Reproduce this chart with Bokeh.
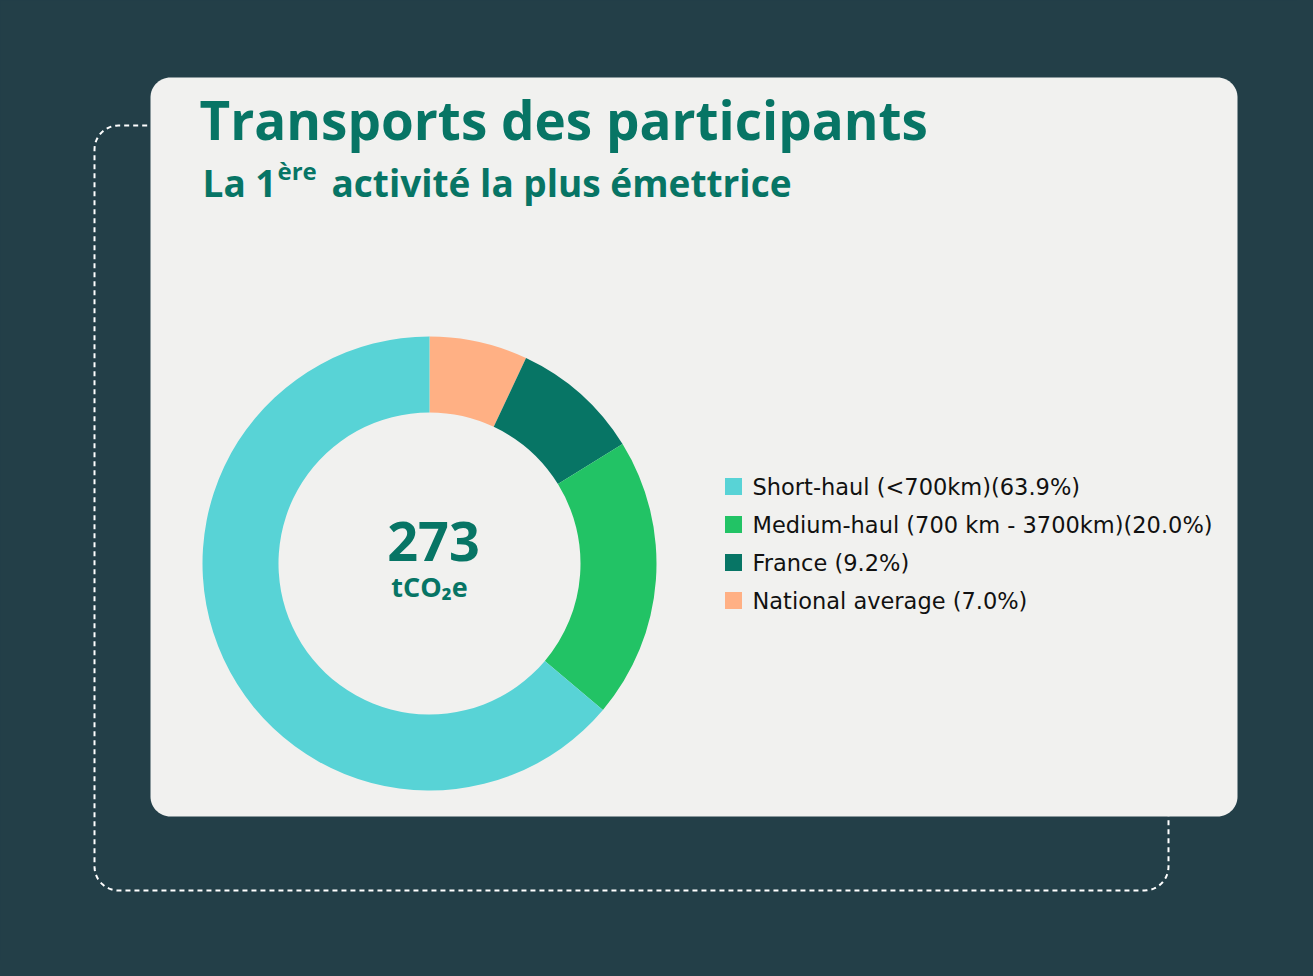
import numpy as np
from bokeh.plotting import figure
from bokeh.models import Range1d, ColumnDataSource
from bokeh.core.properties import value
from bokeh.embed import file_html
from bokeh.resources import INLINE

# ---------------- data ----------------
categories = ["Short-haul (<700km)", "Medium-haul (700 km - 3700km)", "France", "National average"]
shares = [63.9, 20.0, 9.2, 7.0]
colors = ["#58d3d6", "#22c365", "#077565", "#ffb084"]
total_value = "273"
total_unit = "tCO\u2082e"
title = "Transports des participants"
subtitle_parts = ["La 1", "\u00e8re", "activit\u00e9 la plus \u00e9mettrice"]

BG = "#233f48"
CARD = "#f1f1ef"
GREEN = "#077565"
H = 976  # reference pixel height; data y = H - pixel_y
HEAD_FONT = value("Open Sans")
BASE_FIX = 0.41  # baseline correction (fraction of font size) for Open Sans


def by(pix_baseline, size):
    return H - pix_baseline + BASE_FIX * size

W_PLOT, H_PLOT = 1297, 960
p = figure(width=W_PLOT, height=H_PLOT, output_backend="svg", toolbar_location=None,
           x_range=Range1d(0, W_PLOT), y_range=Range1d(H - H_PLOT, H),
           min_border=0)
p.axis.visible = False
p.grid.visible = False
p.outline_line_color = None
p.background_fill_color = BG
p.border_fill_color = BG


def rrect(x0, y0, x1, y1, r, n=16):
    xs, ys = [], []
    corners = [(x1 - r, y1 - r, 0, np.pi / 2), (x0 + r, y1 - r, np.pi / 2, np.pi),
               (x0 + r, y0 + r, np.pi, 1.5 * np.pi), (x1 - r, y0 + r, 1.5 * np.pi, 2 * np.pi)]
    for cx, cy, a0, a1 in corners:
        t = np.linspace(a0, a1, n)
        xs.extend(cx + r * np.cos(t))
        ys.extend(cy + r * np.sin(t))
    xs.append(xs[0]); ys.append(ys[0])
    return xs, ys

# dashed back frame
fx, fy = rrect(94, H - 890, 1168, H - 125, 24)
p.line(fx, fy, line_color="white", line_width=2, line_dash="5 4")

# card
cx_, cy_ = rrect(150, H - 816, 1237, H - 77, 20)
p.patch(cx_, cy_, fill_color=CARD, line_color=None)

# titles
p.text(x=[199], y=[by(141, 53)], text=[title], text_font=HEAD_FONT, text_font_style="bold",
       text_font_size="53px", text_color=GREEN, text_baseline="alphabetic")
p.text(x=[202], y=[by(197, 37)], text=[subtitle_parts[0]], text_font=HEAD_FONT, text_font_style="bold",
       text_font_size="37px", text_color=GREEN, text_baseline="alphabetic")
p.text(x=[277], y=[by(180, 24)], text=[subtitle_parts[1]], text_font=HEAD_FONT, text_font_style="bold",
       text_font_size="24px", text_color=GREEN, text_baseline="alphabetic")
p.text(x=[331], y=[by(197, 37)], text=[subtitle_parts[2]], text_font=HEAD_FONT, text_font_style="bold",
       text_font_size="37px", text_color=GREEN, text_baseline="alphabetic")

# donut: starts at 12 o'clock, clockwise, last category first
cx, cy = 429, H - 563
r_out, r_in = 227, 151
order = list(range(len(shares)))[::-1]
tot = sum(shares)
starts, ends, cols = [], [], []
acc = 0.0
for i in order:
    a0 = np.pi / 2 - acc / tot * 2 * np.pi
    acc += shares[i]
    a1 = np.pi / 2 - acc / tot * 2 * np.pi
    starts.append(a0); ends.append(a1); cols.append(colors[i])
src = ColumnDataSource(dict(start=starts, end=ends, color=cols))
p.annular_wedge(x=cx, y=cy, inner_radius=r_in, outer_radius=r_out, start_angle="start",
                end_angle="end", direction="clock", fill_color="color", line_color=None,
                source=src)

# center text
p.text(x=[433], y=[by(563, 54)], text=[total_value], text_font=HEAD_FONT, text_font_style="bold",
       text_font_size="54px", text_color=GREEN, text_align="center", text_baseline="alphabetic")
p.text(x=[429], y=[by(597, 27)], text=[total_unit], text_font=HEAD_FONT, text_font_style="bold",
       text_font_size="27px", text_color=GREEN, text_align="center", text_baseline="alphabetic")

# legend
labels = [c + ("" if c.endswith(")") else " ") + f"({s:.1f}%)" for c, s in zip(categories, shares)]
ly = [H - (486 + 38 * k) for k in range(len(labels))]
p.rect(x=[733] * len(labels), y=ly, width=17, height=17, fill_color=colors, line_color=None)
p.text(x=[752] * len(labels), y=ly, text=labels, text_font=value("DejaVu Sans"),
       text_font_size="22.5px", text_color="#111111", text_baseline="middle")

html = file_html(p, INLINE)
html = html.replace("<head>", "<head><style>html,body{background:%s;}</style>" % BG, 1)
open("out.html", "w").write(html)
